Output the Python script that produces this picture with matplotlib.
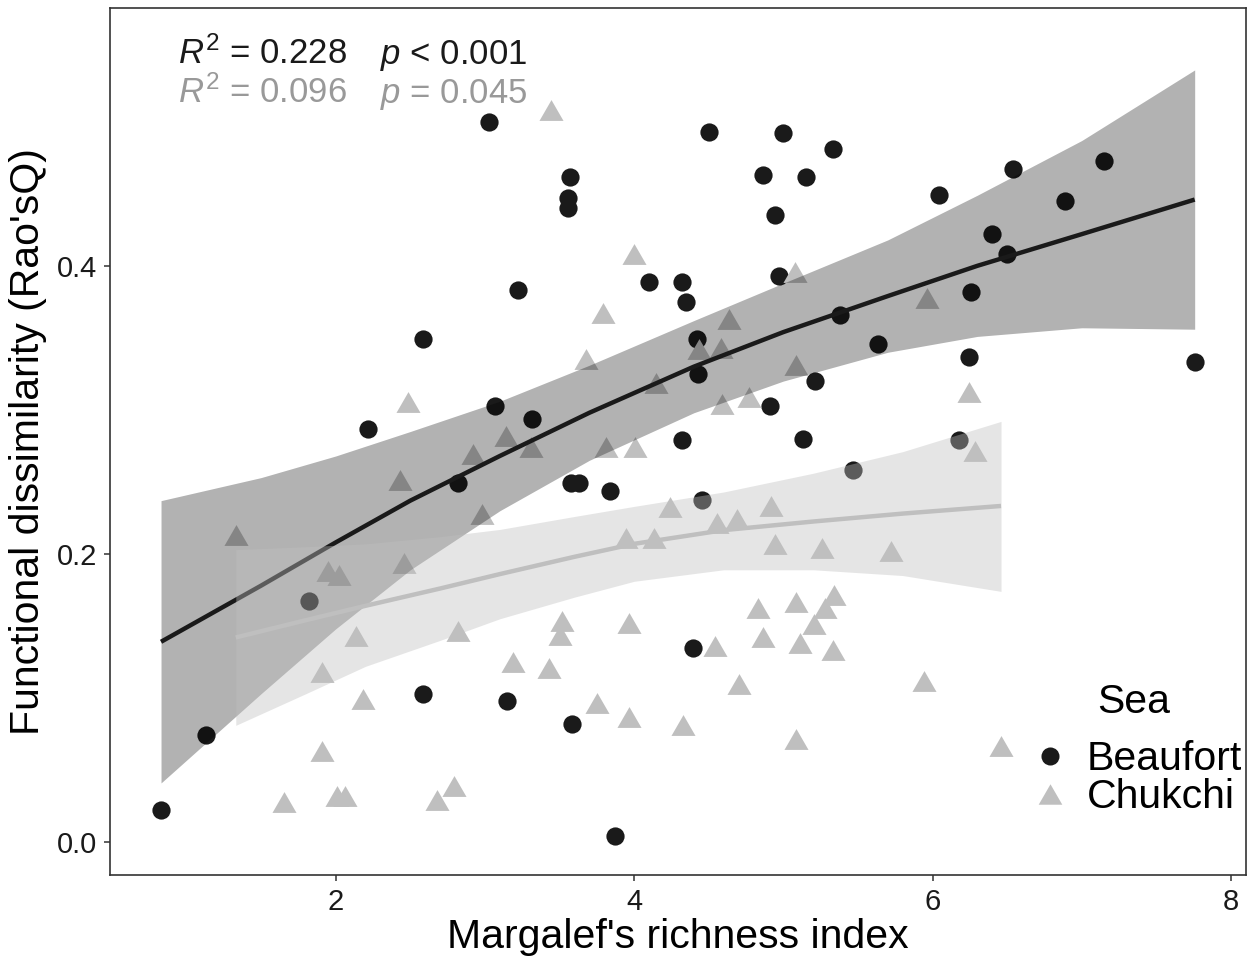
import numpy as np
import matplotlib
matplotlib.use("Agg")
import matplotlib.pyplot as plt
from matplotlib.lines import Line2D

# ---------------- data ----------------
beaufort_x = [3.03, 2.585, 3.07, 2.215, 4.50, 4.995, 5.33, 3.567, 3.554, 3.554,
              4.864, 5.15, 4.944, 3.22, 4.10, 4.32, 4.35, 4.97, 5.38, 5.635,
              4.42, 4.43, 5.215, 4.913, 3.314, 4.32, 5.13, 6.04, 6.537, 7.15,
              6.89, 6.40, 6.50, 6.26, 6.247, 7.757, 6.176, 2.818, 1.823, 1.129,
              0.829, 2.587, 3.146, 3.58, 3.63, 3.836, 4.455, 5.47, 4.395, 3.586,
              3.872]
beaufort_y = [0.500, 0.349, 0.303, 0.287, 0.493, 0.492, 0.481, 0.462, 0.447, 0.440,
              0.463, 0.462, 0.435, 0.383, 0.389, 0.389, 0.375, 0.393, 0.366, 0.346,
              0.349, 0.325, 0.320, 0.303, 0.294, 0.279, 0.280, 0.449, 0.467, 0.473,
              0.445, 0.422, 0.408, 0.382, 0.337, 0.333, 0.279, 0.249, 0.167, 0.0743,
              0.0224, 0.103, 0.098, 0.249, 0.249, 0.2435, 0.2375, 0.258, 0.135, 0.082,
              0.0044]

chukchi_x = [2.483, 3.44, 4.0, 3.79, 3.68, 5.077, 4.634, 4.583, 4.437, 5.085,
             4.145, 4.772, 4.587, 3.14, 3.31, 3.81, 4.006, 2.918, 2.43, 2.978,
             1.33, 1.95, 2.025, 2.458, 2.136, 2.818, 1.906, 2.18, 1.906, 2.79,
             2.677, 2.007, 2.062, 1.651, 4.24, 4.915, 4.553, 4.688, 3.944, 4.133,
             4.944, 5.26, 5.72, 5.342, 5.085, 5.278, 4.829, 5.208, 3.519, 3.503,
             3.964, 4.862, 5.112, 5.33, 4.544, 3.19, 3.428, 4.705, 3.754, 3.966,
             4.326, 5.083, 5.96, 6.247, 6.285, 5.94, 6.459]
chukchi_y = [0.3056, 0.508, 0.408, 0.367, 0.335, 0.3955, 0.363, 0.343, 0.342, 0.331,
             0.319, 0.309, 0.304, 0.282, 0.274, 0.274, 0.274, 0.2694, 0.251, 0.2278,
             0.213, 0.188, 0.1857, 0.194, 0.143, 0.1463, 0.118, 0.099, 0.063, 0.039,
             0.029, 0.032, 0.032, 0.028, 0.2324, 0.2336, 0.2215, 0.2243, 0.2109, 0.2109,
             0.207, 0.204, 0.2023, 0.1717, 0.1669, 0.1625, 0.1623, 0.1514, 0.1535, 0.144,
             0.1523, 0.1425, 0.138, 0.1335, 0.1358, 0.125, 0.1205, 0.1097, 0.0963, 0.0868,
             0.0815, 0.0718, 0.3778, 0.3127, 0.2717, 0.1115, 0.0665]

# fitted smooth curves and 95% confidence bands
beaufort_fit_x = [0.829, 1.5, 2.0, 2.5, 3.1, 3.7, 4.4, 5.0, 5.7, 6.3, 7.0, 7.757]
beaufort_fit = [0.139, 0.178, 0.208, 0.237, 0.268, 0.298, 0.330, 0.354, 0.379, 0.400, 0.422, 0.446]
beaufort_lo = [0.041, 0.103, 0.148, 0.189, 0.230, 0.265, 0.298, 0.320, 0.340, 0.351, 0.357, 0.356]
beaufort_hi = [0.237, 0.253, 0.268, 0.285, 0.306, 0.331, 0.362, 0.388, 0.418, 0.449, 0.487, 0.536]

chukchi_fit_x = [1.33, 1.8, 2.2, 2.7, 3.1, 3.6, 4.0, 4.6, 5.2, 5.8, 6.459]
chukchi_fit = [0.142, 0.154, 0.164, 0.176, 0.186, 0.198, 0.207, 0.2165, 0.2225, 0.228, 0.2333]
chukchi_lo = [0.081, 0.103, 0.122, 0.140, 0.155, 0.170, 0.181, 0.189, 0.189, 0.185, 0.174]
chukchi_hi = [0.203, 0.205, 0.207, 0.212, 0.217, 0.226, 0.233, 0.243, 0.256, 0.271, 0.292]

seas = ["Beaufort", "Chukchi"]
stats_lines = [("0.228", "< 0.001"), ("0.096", "= 0.045")]
x_ticks = [2, 4, 6, 8]
y_ticks = [0.0, 0.2, 0.4]

# ---------------- style ----------------
plt.rcParams["font.family"] = ["Liberation Sans", "DejaVu Sans"]
plt.rcParams["mathtext.fontset"] = "custom"
plt.rcParams["mathtext.rm"] = "Liberation Sans"
plt.rcParams["mathtext.it"] = "Liberation Sans:italic"

FRAME = "#333333"
DARK = "#1a1a1a"
LIGHT = "#bfbfbf"

fig = plt.figure(figsize=(12.53, 9.57), dpi=100)
ax = fig.add_axes([110 / 1253, 82 / 957, 1136 / 1253, 867 / 957])

tri = [(0, 0.866), (-1, -0.866), (1, -0.866), (0, 0.866)]

# points
ax.scatter(beaufort_x, beaufort_y, s=172, marker="o", color=DARK,
           linewidths=0, zorder=2)
ax.scatter(chukchi_x, chukchi_y, s=300, marker=tri, color=LIGHT,
           linewidths=0, zorder=3)

# smooths
ax.fill_between(beaufort_fit_x, beaufort_lo, beaufort_hi, color="black",
                alpha=0.3, linewidth=0, zorder=4)
ax.plot(beaufort_fit_x, beaufort_fit, color=DARK, lw=3.2, zorder=5,
        solid_capstyle="butt", solid_joinstyle="round")
ax.fill_between(chukchi_fit_x, chukchi_lo, chukchi_hi, color=LIGHT,
                alpha=0.4, linewidth=0, zorder=6)
ax.plot(chukchi_fit_x, chukchi_fit, color=LIGHT, lw=3.2, zorder=7,
        solid_capstyle="butt", solid_joinstyle="round")

# axes
ax.set_xlim(0.487, 8.101)
ax.set_ylim(-0.0229, 0.579)
ax.set_xticks(x_ticks)
ax.set_xticklabels([str(v) for v in x_ticks])
ax.set_yticks(y_ticks)
ax.set_yticklabels([f"{v:.1f}" for v in y_ticks])
ax.tick_params(length=4, width=1.1, color=FRAME, labelsize=21,
               labelcolor="#1a1a1a", pad=5)
for sp in ax.spines.values():
    sp.set_color(FRAME)
    sp.set_linewidth(1.2)
ax.set_xlabel("Margalef's richness index", fontsize=29.5, color="black", labelpad=2)
ax.set_ylabel("Functional dissimilarity (Rao'sQ)", fontsize=29.5, color="black", labelpad=7)

# stats annotations
stat_colors = [DARK, "#999999"]
stat_y = [0.540, 0.513]
for (r2, pv), col, yy in zip(stats_lines, stat_colors, stat_y):
    ax.text(0.943, yy, r"$R^2$" + " = " + r2, fontsize=25, color=col,
            va="baseline", ha="left", zorder=10)
    ax.text(2.296, yy, r"$p$" + " " + pv, fontsize=25, color=col,
            va="baseline", ha="left", zorder=10)

# legend
handles = [
    Line2D([], [], marker="o", linestyle="none", markersize=13,
           markerfacecolor=DARK, markeredgewidth=0),
    Line2D([], [], marker=tri, linestyle="none", markersize=17,
           markerfacecolor=LIGHT, markeredgewidth=0),
]
leg = ax.legend(handles, seas, title="Sea", loc="lower right",
                bbox_to_anchor=(1.011, 0.049), frameon=False, fontsize=29.5,
                title_fontsize=29.5, handletextpad=0.3, labelspacing=0.0,
                borderaxespad=0.0, handlelength=1.2)
leg._legend_box.sep = 14

fig.savefig("out.png", dpi=100)
